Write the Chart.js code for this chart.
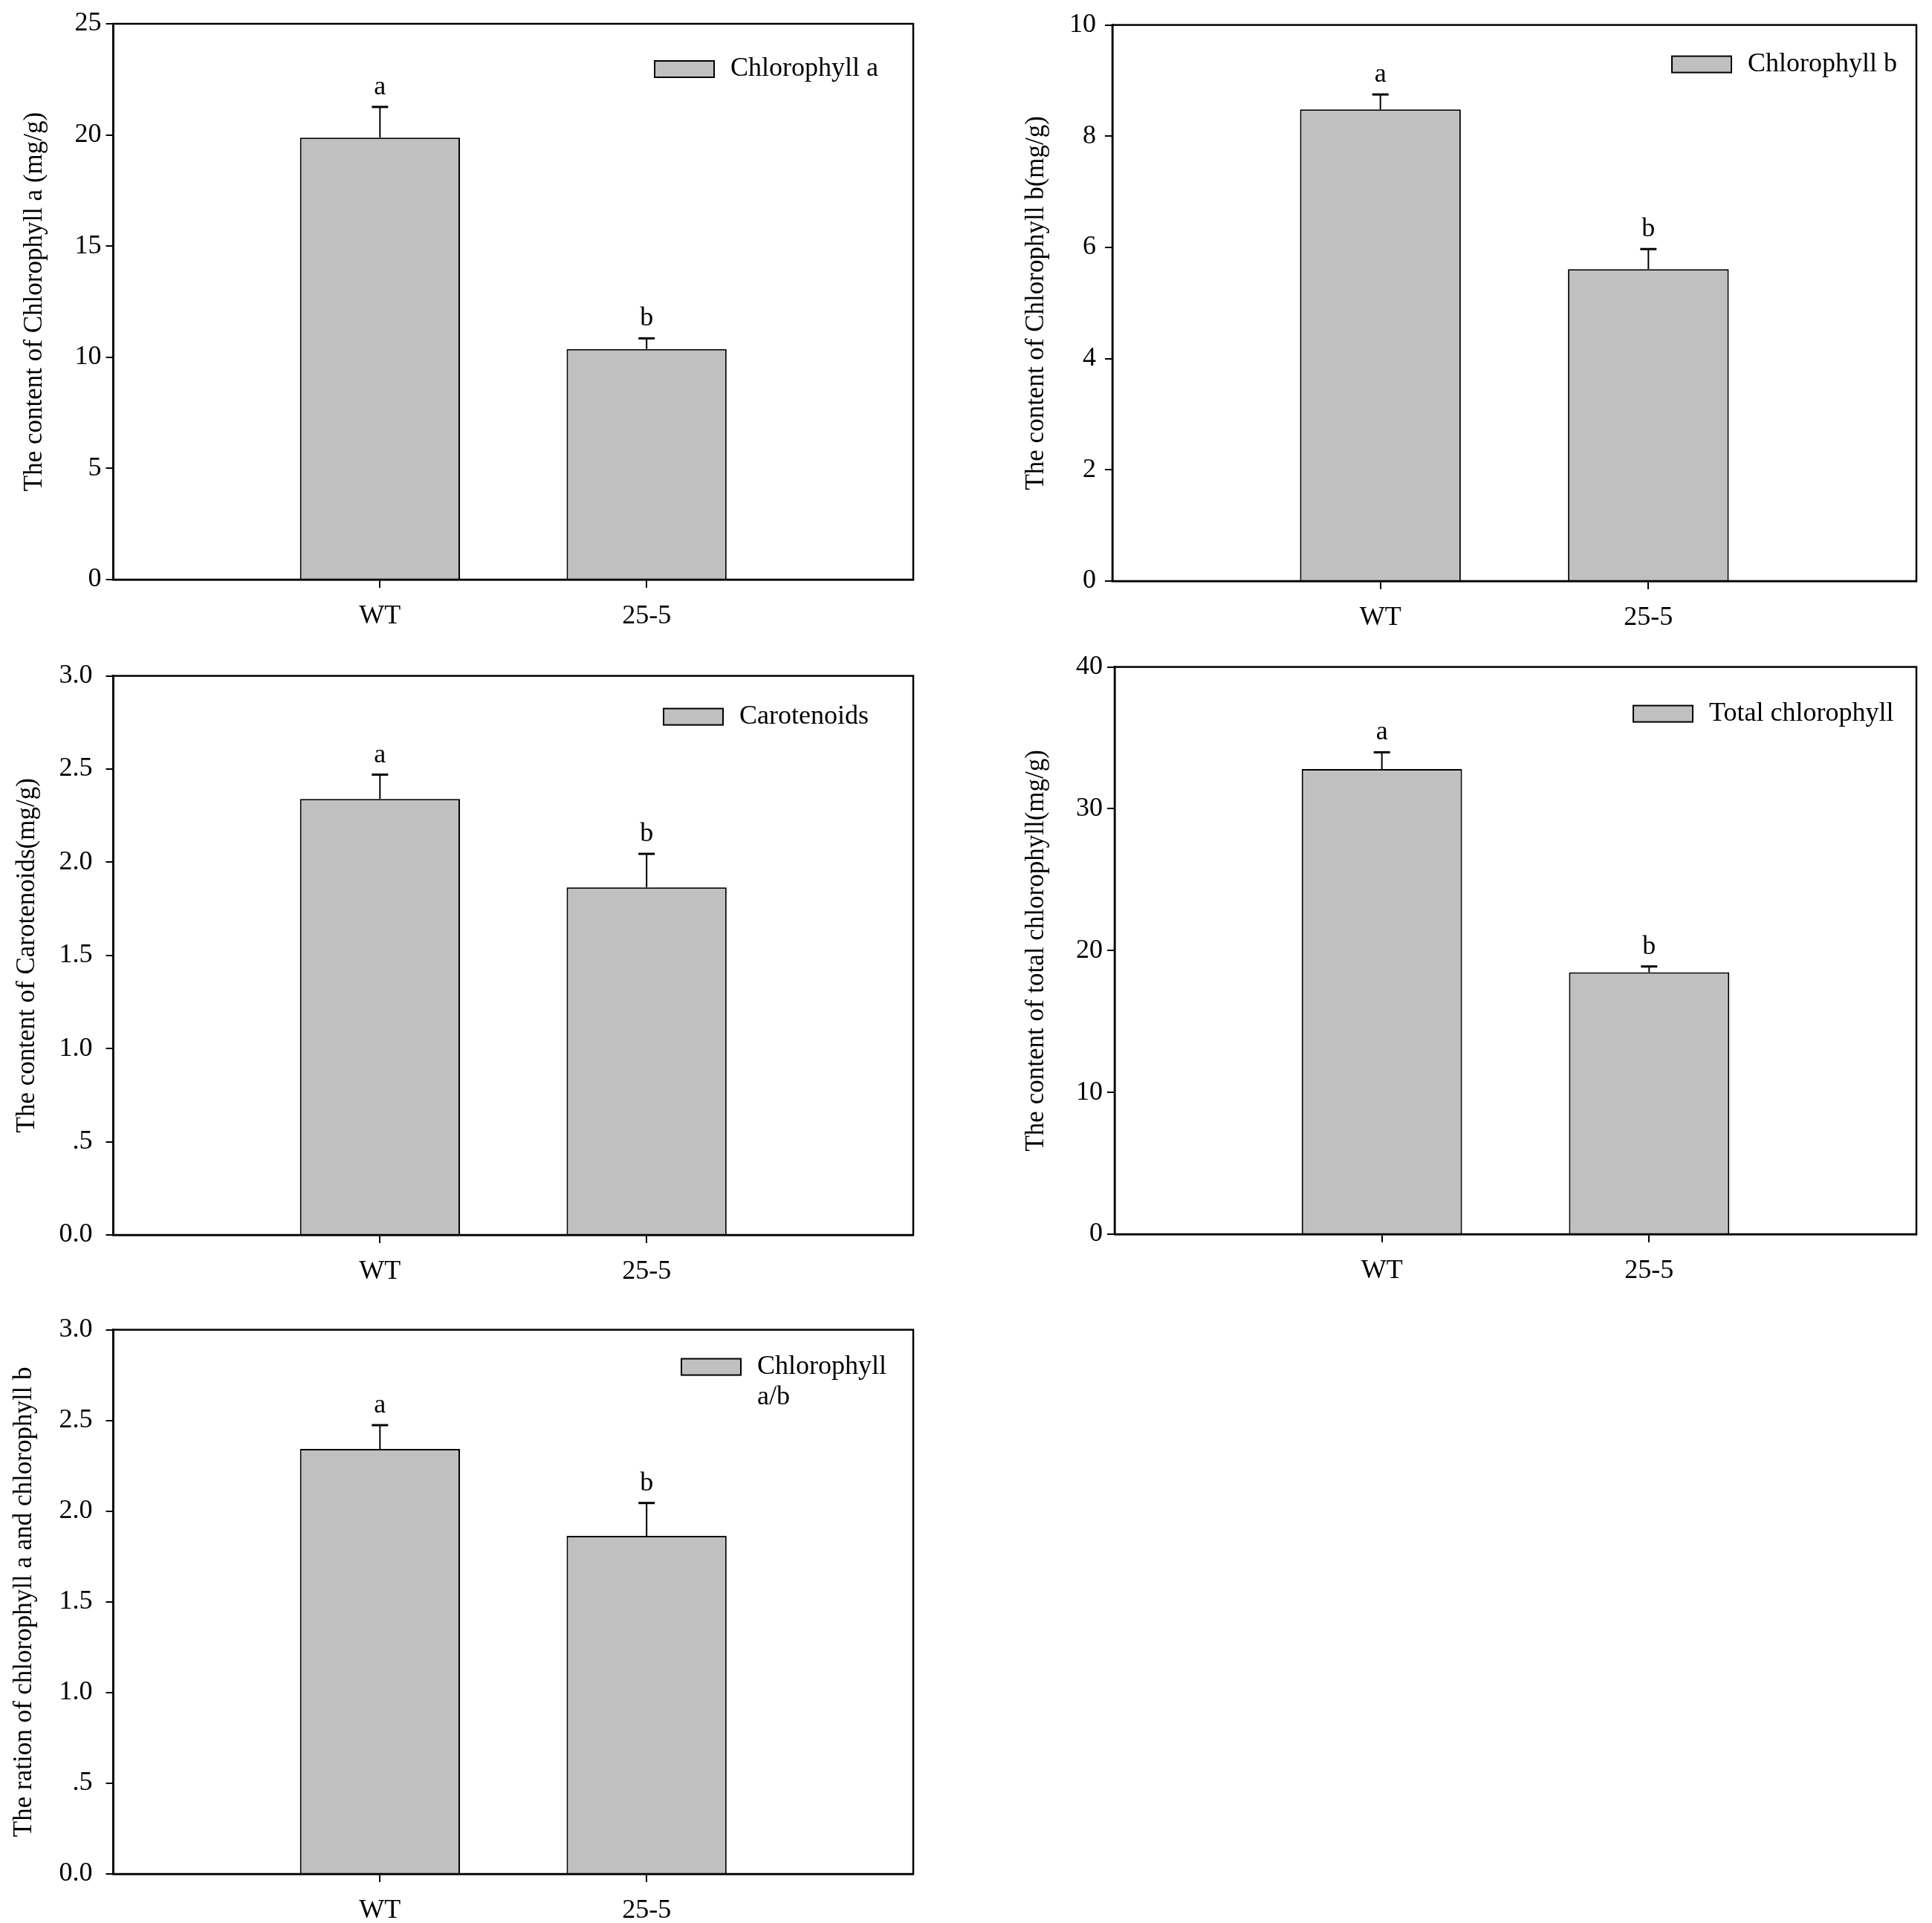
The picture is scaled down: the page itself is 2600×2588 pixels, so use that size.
<!DOCTYPE html>
<html>
<head>
<meta charset="utf-8">
<script src="https://cdn.jsdelivr.net/npm/chart.js@4.4.1/dist/chart.umd.min.js"></script>
<style>
  html, body { margin: 0; padding: 0; background: #fff; }
  #page { position: relative; width: 2600px; height: 2588px; background: #fff; overflow: hidden; }
  #page canvas { position: absolute; }
</style>
</head>
<body>
<div id="page"></div>
<script>
// groups and significance letters (same for every panel)
const groups = ['WT', '25-5'];
const letters = ['a', 'b'];

// Chlorophyll a (mg/g)
const chlA = [19.88, 10.37];
const chlAErr = [1.38, 0.48];
const chlATicks = ['0', '5', '10', '15', '20', '25'];

// Chlorophyll b (mg/g)
const chlB = [8.48, 5.61];
const chlBErr = [0.27, 0.36];
const chlBTicks = ['0', '2', '4', '6', '8', '10'];

// Carotenoids (mg/g)
const carot = [2.34, 1.865];
const carotErr = [0.13, 0.18];
const carotTicks = ['0.0', '.5', '1.0', '1.5', '2.0', '2.5', '3.0'];

// Total chlorophyll (mg/g)
const total = [32.8, 18.47];
const totalErr = [1.18, 0.41];
const totalTicks = ['0', '10', '20', '30', '40'];

// ratio chlorophyll a / b
const ratio = [2.343, 1.864];
const ratioErr = [0.131, 0.181];
const ratioTicks = ['0.0', '.5', '1.0', '1.5', '2.0', '2.5', '3.0'];

Chart.defaults.font.family = "'Liberation Serif', 'Times New Roman', serif";
Chart.defaults.color = '#000';

const BAR = '#c0c0c0';

// canvas box + plot area, in page pixels
const panels = [
  { canvas: [0, 0, 1300, 870], area: [152.5, 32, 1229, 780], titleX: 47,
    title: 'The content of Chlorophyll a (mg/g)', max: 25, step: 5, ticks: chlATicks,
    values: chlA, errors: chlAErr, legend: ['Chlorophyll a'], legPos: [348, 50], tickPad: 6 },
  { canvas: [1300, 0, 1300, 870], area: [1497, 25, 2579, 782], titleX: 1395,
    title: 'The content of Chlorophyll b(mg/g)', max: 10, step: 2, ticks: chlBTicks,
    values: chlB, errors: chlBErr, legend: ['Chlorophyll b'], legPos: [329, 42], tickPad: 12 },
  { canvas: [0, 870, 1300, 880], area: [152.5, 907, 1229, 1662], titleX: 37,
    title: 'The content of Carotenoids(mg/g)', max: 3, step: 0.5, ticks: carotTicks,
    values: carot, errors: carotErr, legend: ['Carotenoids'], legPos: [336, 44], tickPad: 18 },
  { canvas: [1300, 870, 1300, 880], area: [1500, 896, 2579, 1661], titleX: 1395,
    title: 'The content of total chlorophyll(mg/g)', max: 40, step: 10, ticks: totalTicks,
    values: total, errors: totalErr, legend: ['Total chlorophyll'], legPos: [381, 52], tickPad: 6 },
  { canvas: [0, 1750, 1300, 838], area: [152.5, 1774, 1229, 2522], titleX: 33,
    title: 'The ration of chlorophyll a and chlorophyll b', max: 3, step: 0.5, ticks: ratioTicks,
    values: ratio, errors: ratioErr, legend: ['Chlorophyll', 'a/b'], legPos: [312, 39], tickPad: 18 }
];

// frame, error whiskers, letters and legend box
const decor = {
  id: 'decor',
  afterDatasetsDraw(chart, args, opts) {
    const ctx = chart.ctx;
    const a = chart.chartArea;
    const xs = chart.scales.x, ys = chart.scales.y;
    ctx.save();
    ctx.strokeStyle = '#000';
    ctx.lineWidth = 2.5;
    ctx.strokeRect(a.left, a.top, a.right - a.left, a.bottom - a.top);

    opts.values.forEach((v, i) => {
      const x = xs.getPixelForValue(i + 1);
      const y0 = ys.getPixelForValue(v);
      const y1 = ys.getPixelForValue(v + opts.errors[i]);
      ctx.lineWidth = 2;
      ctx.beginPath();
      ctx.moveTo(x, y0);
      ctx.lineTo(x, y1);
      ctx.stroke();
      ctx.lineWidth = 3;
      ctx.beginPath();
      ctx.moveTo(x - 11, y1);
      ctx.lineTo(x + 11, y1);
      ctx.stroke();
      ctx.fillStyle = '#000';
      ctx.font = "36px 'Liberation Serif'";
      ctx.textAlign = 'center';
      ctx.textBaseline = 'alphabetic';
      ctx.fillText(letters[i], x, y1 - 17);
    });

    // legend
    const bx = a.right - opts.legPos[0];
    const by = a.top + opts.legPos[1];
    ctx.fillStyle = BAR;
    ctx.fillRect(bx, by, 80, 22);
    ctx.lineWidth = 2;
    ctx.strokeRect(bx, by, 80, 22);
    ctx.fillStyle = '#000';
    ctx.font = "36px 'Liberation Serif'";
    ctx.textAlign = 'left';
    ctx.textBaseline = 'middle';
    opts.legend.forEach((t, k) => ctx.fillText(t, bx + 102, by + 11 + k * 41));
    ctx.restore();
  }
};

const page = document.getElementById('page');

panels.forEach(p => {
  const [cx, cy, cw, ch] = p.canvas;
  const [L, T, R, B] = p.area;
  const titleFont = 35;
  const padLeft = p.titleX - cx - titleFont * 1.2 / 2;
  const yWidth = L - cx - padLeft;
  const xHeight = 60;

  const cv = document.createElement('canvas');
  cv.width = cw; cv.height = ch;
  cv.style.left = cx + 'px'; cv.style.top = cy + 'px';
  cv.style.width = cw + 'px'; cv.style.height = ch + 'px';
  page.appendChild(cv);

  new Chart(cv.getContext('2d'), {
    type: 'bar',
    data: {
      labels: [''].concat(groups, ['']),
      datasets: [{
        label: p.legend.join(' '),
        data: [null].concat(p.values, [null]),
        backgroundColor: BAR,
        borderColor: '#000',
        borderWidth: 2,
        barPercentage: 1,
        categoryPercentage: 0.6
      }]
    },
    options: {
      responsive: false,
      animation: false,
      devicePixelRatio: 1,
      layout: { padding: { left: padLeft, top: T - cy, right: cx + cw - R, bottom: cy + ch - B - xHeight } },
      plugins: {
        legend: { display: false },
        tooltip: { enabled: false },
        decor: { values: p.values, errors: p.errors, legend: p.legend, legPos: p.legPos }
      },
      scales: {
        x: {
          offset: false,
          afterFit: s => { s.height = xHeight; },
          grid: {
            offset: false,
            drawOnChartArea: false,
            tickLength: 11,
            lineWidth: 2,
            tickColor: c => (c.index === 1 || c.index === 2) ? '#000' : 'rgba(0,0,0,0)'
          },
          border: { display: true, color: '#000', width: 2.5 },
          ticks: { autoSkip: false, maxRotation: 0, padding: 17, font: { size: 36 } }
        },
        y: {
          min: 0,
          max: p.max,
          afterFit: s => { s.width = yWidth; },
          grid: { drawOnChartArea: false, tickLength: 10, lineWidth: 2, tickColor: '#000' },
          border: { display: true, color: '#000', width: 2.5 },
          ticks: {
            stepSize: p.step,
            padding: p.tickPad,
            font: { size: 36 },
            callback: (v, i) => p.ticks[i]
          },
          title: {
            display: true,
            text: p.title,
            padding: 0,
            font: { size: titleFont }
          }
        }
      }
    },
    plugins: [decor]
  });
});
</script>
</body>
</html>
